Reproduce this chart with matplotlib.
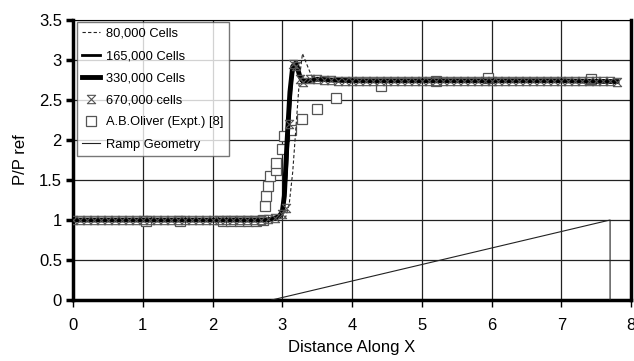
import matplotlib
matplotlib.use("Agg")
import matplotlib.pyplot as plt
from matplotlib.path import Path

plt.rcParams['font.family'] = ['Liberation Sans', 'DejaVu Sans']

# 80,000 cells (dashed)
x_80k = [0.0, 1.0, 2.0, 2.9, 3.05, 3.1, 3.15, 3.2, 3.25, 3.29, 3.35, 3.42, 3.5, 4.0, 5.0, 6.0, 7.0, 7.8]
y_80k = [1.01, 1.01, 1.01, 1.01, 1.04, 1.2, 1.6, 2.2, 2.8, 3.08, 2.95, 2.8, 2.75, 2.74, 2.74, 2.74, 2.74, 2.74]

# 165,000 cells
x_165k = [0.0, 2.85, 2.95, 3.02, 3.06, 3.1, 3.14, 3.18, 3.22, 3.27, 3.35, 3.5, 3.8, 4.5, 6.0, 7.8]
y_165k = [1.0, 1.01, 1.04, 1.15, 1.6, 2.3, 2.8, 2.97, 2.93, 2.74, 2.73, 2.76, 2.75, 2.74, 2.74, 2.73]

# 330,000 cells
x_330k = [0.0, 2.8, 2.95, 3.0, 3.03, 3.07, 3.11, 3.15, 3.2, 3.25, 3.3, 3.5, 3.7, 4.0, 5.0, 6.0, 7.0, 7.8]
y_330k = [1.0, 1.0, 1.04, 1.1, 1.3, 2.0, 2.6, 2.92, 2.96, 2.8, 2.73, 2.76, 2.75, 2.74, 2.74, 2.74, 2.74, 2.73]

# 670,000 cells (markers)
x_670k = [0.0, 0.1, 0.2, 0.3, 0.4, 0.5, 0.6, 0.7, 0.8, 0.9, 1.0, 1.1, 1.2, 1.3, 1.4, 1.5,
          1.6, 1.7, 1.8, 1.9, 2.0, 2.1, 2.2, 2.3, 2.4, 2.5, 2.6, 2.7, 2.8, 2.9, 3.0, 3.06,
          3.1, 3.15, 3.2, 3.25, 3.3, 3.4, 3.5, 3.6, 3.7, 3.8, 3.9, 4.0, 4.1, 4.2, 4.3, 4.4,
          4.5, 4.6, 4.7, 4.8, 4.9, 5.0, 5.1, 5.2, 5.3, 5.4, 5.5, 5.6, 5.7, 5.8, 5.9, 6.0,
          6.1, 6.2, 6.3, 6.4, 6.5, 6.6, 6.7, 6.8, 6.9, 7.0, 7.1, 7.2, 7.3, 7.4, 7.5, 7.6, 7.7, 7.8]
y_670k = [1.0, 1.0, 1.0, 1.0, 1.0, 1.0, 1.0, 1.0, 1.0, 1.0, 1.0, 1.0, 1.0, 1.0, 1.0, 1.0,
          1.0, 1.0, 1.0, 1.0, 1.0, 1.0, 1.0, 1.0, 1.0, 1.0, 1.0, 1.0, 1.01, 1.03, 1.08, 1.15,
          2.2, 2.95, 2.93, 2.76, 2.73, 2.76, 2.76, 2.75, 2.75, 2.74, 2.74, 2.74, 2.74, 2.74, 2.74, 2.74,
          2.74, 2.74, 2.74, 2.74, 2.74, 2.74, 2.74, 2.74, 2.74, 2.74, 2.74, 2.74, 2.74, 2.74, 2.74, 2.74,
          2.74, 2.74, 2.74, 2.74, 2.74, 2.74, 2.74, 2.74, 2.74, 2.74, 2.74, 2.74, 2.74, 2.74, 2.74, 2.74, 2.74, 2.73]

# A.B. Oliver experiment
x_exp = [1.05, 1.54, 2.15, 2.27, 2.39, 2.51, 2.62, 2.72, 2.75, 2.77, 2.80, 2.82, 2.91, 2.91,
         2.99, 3.02, 3.13, 3.28, 3.50, 3.77, 4.42, 5.2, 5.95, 7.43]
y_exp = [0.99, 0.99, 0.99, 0.99, 0.99, 0.99, 0.99, 1.0, 1.17, 1.30, 1.42, 1.55, 1.63, 1.71,
         1.89, 2.05, 2.13, 2.26, 2.39, 2.52, 2.68, 2.74, 2.77, 2.76]

# ramp geometry
x_ramp = [2.85, 7.7, 7.7]
y_ramp = [0.0, 1.0, 0.0]

xticks = [0, 1, 2, 3, 4, 5, 6, 7, 8]
yticks = [0, 0.5, 1, 1.5, 2, 2.5, 3, 3.5]
ytick_labels = ["0", "0.5", "1", "1.5", "2", "2.5", "3", "3.5"]

hourglass = Path([(-1, 1), (1, 1), (-1, -1), (1, -1), (-1, 1)],
                 [Path.MOVETO, Path.LINETO, Path.LINETO, Path.LINETO, Path.CLOSEPOLY])

fig = plt.figure(figsize=(6.34, 3.61), dpi=100)
ax = fig.add_axes([73/634, 61/361, 558/634, 280/361])

ax.plot(x_80k, y_80k, color="#222222", lw=0.8, ls=(0, (3, 2)), label="80,000 Cells", zorder=4)
ax.plot(x_165k, y_165k, color="black", lw=2.0, label="165,000 Cells", zorder=4)
ax.plot(x_330k, y_330k, color="black", lw=3.5, label="330,000 Cells", zorder=4)
ax.plot(x_670k, y_670k, ls="none", marker=hourglass, ms=6, mfc="none", mec="#555555",
        mew=0.8, label="670,000 cells", zorder=5)
ax.plot(x_exp, y_exp, ls="none", marker="s", ms=7.5, mfc="white", mec="#555555",
        mew=0.9, label="A.B.Oliver (Expt.) [8]", zorder=3)
ax.plot(x_ramp, y_ramp, color="#222222", lw=0.8, label="Ramp Geometry", zorder=3)

ax.set_xlim(0, 8)
ax.set_ylim(0, 3.5)
ax.set_xticks(xticks)
ax.set_yticks(yticks)
ax.set_yticklabels(ytick_labels)
ax.grid(True, color="#222222", lw=0.9)
ax.set_axisbelow(True)

for side in ["left", "bottom", "right"]:
    ax.spines[side].set_linewidth(2.5)
ax.spines["top"].set_linewidth(0.8)
ax.tick_params(axis="y", direction="out", length=5, width=2.5, labelsize=12, pad=3)
ax.tick_params(axis="x", direction="out", length=5, width=1, labelsize=12, pad=8)

ax.set_xlabel("Distance Along X", fontsize=12, labelpad=5)
ax.set_ylabel("P/P ref", fontsize=12, labelpad=8)

leg = ax.legend(loc="upper left", bbox_to_anchor=(0.004, 0.997), fontsize=9.3, frameon=True,
                fancybox=False, edgecolor="#555555", handlelength=1.4, handletextpad=0.45,
                borderaxespad=0.1, labelspacing=0.78, borderpad=0.45)
leg.get_frame().set_linewidth(1.0)

fig.savefig("out.png", dpi=100)
